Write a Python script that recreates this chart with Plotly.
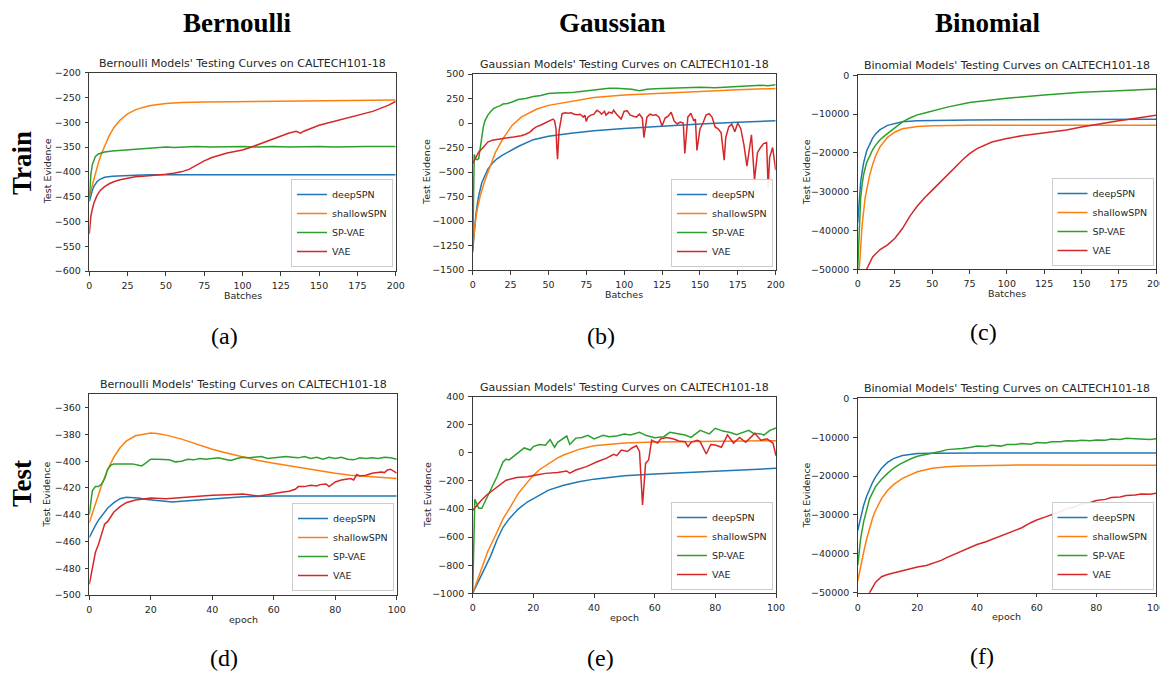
import plotly.graph_objects as go

# page body has an 8px margin: the figure is sized to the visible area and every
# layout position below is given in screen pixels and converted with OFF.
OFF = 8
W, H = 1168 - OFF, 673 - OFF
SERIES = ["deepSPN", "shallowSPN", "SP-VAE", "VAE"]
COLORS = ["#1f77b4", "#ff7f0e", "#2ca02c", "#d62728"]

# ---------------- (a) Bernoulli train ----------------
A_DEEP_X = [0, 1, 2, 3, 5, 7, 10, 15, 20, 25, 30, 40, 50, 75, 100, 150, 200]
A_DEEP_Y = [-460, -447, -437, -429, -420, -415, -411, -409, -408, -407, -407, -406, -406, -406, -406, -406, -406]
A_SHAL_X = [0, 2, 4, 6, 8, 10, 13, 16, 20, 25, 30, 35, 40, 50, 60, 75, 100, 150, 200]
A_SHAL_Y = [-450, -425, -402, -381, -363, -347, -327, -311, -296, -283, -275, -270, -266, -262, -260, -259, -258, -256, -255]
A_SPV_X = [0, 1, 2, 3, 4, 6, 8, 10, 15, 20, 25, 30, 35, 40, 45, 50, 55, 60, 70, 80, 90, 100, 110, 120, 130, 140, 150, 160, 170, 180, 190, 200]
A_SPV_Y = [-455, -405, -385, -375, -369, -364, -362, -360, -358, -357, -356, -355, -353, -352, -351, -350, -351, -350, -349, -350, -349, -349, -350, -349, -350, -349, -349, -350, -349, -349, -349, -349]
A_VAE_X = [0, 1, 2, 3, 5, 7, 10, 13, 16, 20, 25, 30, 35, 40, 45, 50, 55, 60, 65, 70, 75, 80, 85, 90, 95, 100, 105, 110, 115, 120, 125, 130, 135, 138, 140, 145, 150, 155, 160, 165, 170, 175, 180, 185, 190, 195, 200]
A_VAE_Y = [-525, -490, -475, -463, -448, -438, -430, -424, -420, -416, -413, -410, -409, -408, -406, -405, -403, -400, -395, -386, -378, -371, -366, -362, -359, -356, -351, -345, -339, -333, -327, -322, -318, -322, -318, -312, -306, -302, -298, -295, -291, -286, -282, -278, -272, -266, -258]

# ---------------- (b) Gaussian train ----------------
B_DEEP_X = [0, 1, 2, 3, 4, 6, 8, 10, 13, 16, 20, 25, 30, 40, 50, 65, 80, 100, 125, 150, 175, 200]
B_DEEP_Y = [-1300, -1100, -950, -830, -740, -610, -530, -470, -410, -365, -325, -280, -240, -170, -135, -105, -80, -55, -30, -10, 8, 22]
B_SHAL_X = [0, 1, 2, 3, 5, 8, 11, 15, 20, 26, 32, 42, 50, 65, 80, 100, 125, 150, 175, 200]
B_SHAL_Y = [-1250, -1100, -980, -880, -740, -590, -460, -300, -160, -25, 60, 140, 180, 220, 260, 285, 305, 325, 340, 352]
B_SPV_X = [0, 1, 2, 3, 4, 5, 6, 7, 8, 10, 12, 14, 16, 18, 20, 23, 26, 30, 35, 40, 45, 50, 55, 60, 65, 70, 75, 80, 85, 90, 95, 100, 105, 110, 115, 120, 130, 140, 150, 160, 170, 180, 190, 195, 200]
B_SPV_Y = [-1320, -320, -370, -375, -360, -250, -120, -40, 20, 80, 120, 150, 165, 175, 195, 200, 215, 240, 250, 270, 280, 300, 305, 305, 310, 320, 330, 335, 345, 355, 355, 350, 345, 330, 345, 350, 355, 360, 365, 360, 370, 375, 385, 380, 390]
B_VAE_X = [0, 2, 4, 6, 8, 10, 13, 17, 20, 23, 27, 32, 35, 38, 40, 42, 45, 47, 49, 51, 53, 54, 55, 55.5, 56, 57, 58, 59, 61, 63, 65, 67, 69, 71, 73, 74, 75, 76, 78, 80, 82, 84, 85, 87, 88, 90, 92, 93, 95, 96, 98, 100, 102, 104, 106, 108, 110, 112, 113, 115, 117, 119, 121, 123, 125, 127, 129, 131, 133, 135, 137, 139, 140, 142, 144, 146, 147, 148, 150, 152, 154, 156, 158, 160, 162, 164, 166, 167, 169, 171, 173, 175, 177, 179, 181, 183, 184, 186, 188, 190, 192, 194, 195, 196, 198, 200]
B_VAE_Y = [-415, -350, -295, -265, -225, -195, -175, -163, -155, -150, -142, -130, -115, -90, -60, -40, -20, -5, 15, 30, 40, 25, -60, -250, -370, -80, 30, 95, 105, 100, 105, 90, 85, 90, 60, 80, 15, 60, 80, 90, 130, 110, 90, 120, 80, 110, 100, 130, 90, 70, 40, 120, 125, 80, 70, 60, 90, 50, -150, 60, 90, 80, 85, 60, -30, 50, 70, 110, 20, -10, 10, 0, -310, 60, 100, 20, 40, -280, -60, 0, 80, 95, 60, -40, -60, -100, -380, -150, -40, -10, -90, 0, -60, -220, -440, -200, -120, -580, -300, -250, -210, -200, -660, -350, -250, -480]

# ---------------- (c) Binomial train ----------------
C_DEEP_X = [0, 1, 2, 3, 4, 6, 8, 10, 12, 15, 20, 25, 30, 40, 50, 75, 100, 150, 200]
C_DEEP_Y = [-38000, -31000, -27500, -24800, -22500, -19500, -17600, -16200, -15100, -14000, -12900, -12400, -12000, -11700, -11600, -11500, -11450, -11400, -11350]
C_SHAL_X = [0, 1, 2, 3, 5, 8, 10, 12, 15, 20, 25, 30, 40, 50, 75, 100, 150, 200]
C_SHAL_Y = [-56000, -49000, -43000, -38500, -31500, -25800, -23000, -20800, -18400, -16000, -14600, -13800, -13200, -13000, -12900, -12900, -12900, -12900]
C_SPV_X = [0, 1, 2, 3, 4, 6, 8, 10, 12, 15, 18, 20, 25, 30, 35, 40, 45, 50, 60, 75, 90, 100, 125, 150, 175, 200]
C_SPV_Y = [-50000, -38500, -31500, -28000, -25500, -22500, -20600, -19200, -18000, -16600, -15600, -15000, -13400, -12000, -11000, -10200, -9700, -9200, -8200, -7000, -6300, -5900, -5100, -4400, -3950, -3500]
C_VAE_X = [0, 3, 6, 10, 15, 20, 25, 30, 35, 40, 45, 50, 60, 70, 75, 80, 90, 100, 110, 125, 140, 150, 160, 175, 190, 200]
C_VAE_Y = [-56000, -53000, -50000, -46800, -44900, -43700, -42000, -39500, -36300, -33700, -31500, -29600, -25700, -21900, -20200, -18900, -17200, -16300, -15600, -14900, -14100, -13300, -12600, -11700, -10900, -10300]

# ---------------- (d) Bernoulli test ----------------
D_DEEP_X = [0, 1, 2, 3, 4, 5, 6, 8, 10, 12, 14, 16, 18, 20, 23, 27, 30, 35, 40, 45, 50, 60, 70, 80, 90, 100]
D_DEEP_Y = [-457, -452, -448, -444, -441, -438, -435, -431, -428, -427, -427, -427.5, -428.5, -429, -430, -430.5, -430, -429, -428, -427, -426.5, -426, -426, -426, -426, -426]
D_SHAL_X = [0, 2, 4, 6, 8, 10, 12, 15, 18, 20, 22, 25, 30, 35, 40, 45, 50, 55, 60, 65, 70, 75, 80, 85, 90, 95, 100]
D_SHAL_Y = [-446, -432, -418, -406, -397, -390, -385, -381, -379.5, -379, -379.3, -380.5, -383.5, -387.5, -391, -394, -397, -399.5, -401.5, -403.5, -405.5, -407.5, -409, -410.5, -411.5, -412.5, -413]
D_SPV_X = [0, 1, 2, 3, 4, 5, 6, 7, 8, 10, 12, 14, 16, 17, 18, 20, 22, 24, 26, 28, 30, 32, 34, 36, 38, 40, 42, 44, 46, 48, 50, 52, 54, 56, 58, 60, 62, 64, 66, 68, 70, 72, 74, 76, 78, 80, 82, 84, 86, 88, 90, 92, 94, 96, 98, 100]
D_SPV_Y = [-440, -422, -419, -419, -417, -413, -406, -403, -402, -402, -402.5, -402, -403, -403.5, -402, -398.5, -398.5, -399, -399, -400.5, -400, -398.5, -399, -398, -398.5, -398, -397.5, -398.5, -399.5, -398, -397, -397.5, -397, -396.5, -398, -397.5, -397, -396.5, -397, -397.5, -396.5, -398, -397, -398.5, -397, -398, -397, -398.5, -399, -397.5, -398, -397.5, -398, -397, -397.5, -398.5]
D_VAE_X = [0, 1, 2, 3, 4, 5, 6, 7, 8, 10, 12, 15, 18, 20, 25, 30, 35, 40, 45, 50, 53, 55, 58, 60, 63, 65, 67, 68, 70, 72, 74, 75, 77, 78, 80, 82, 84, 85, 86, 87, 88, 90, 92, 94, 95, 96, 97, 98, 100]
D_VAE_Y = [-492, -480, -468, -462, -454, -447, -445, -441, -438, -434, -431, -429, -428, -427.5, -428, -427, -426.5, -425.5, -425, -424.5, -425.5, -426, -425, -424, -423, -422.5, -421, -419, -419, -418, -418.5, -417.5, -417, -419, -415.5, -414, -413.5, -413, -414, -410, -411, -410.5, -409, -408.5, -408, -408.5, -406.5, -406, -409]

# ---------------- (e) Gaussian test ----------------
E_DEEP_X = [0, 1, 2, 3, 4, 6, 8, 10, 12, 15, 18, 20, 25, 30, 35, 40, 50, 60, 70, 80, 90, 100]
E_DEEP_Y = [-1000, -960, -910, -865, -820, -730, -620, -530, -470, -400, -350, -325, -265, -230, -205, -187, -163, -150, -140, -130, -120, -110]
E_SHAL_X = [0, 1, 2, 3, 5, 8, 10, 12, 15, 18, 20, 22, 25, 28, 30, 35, 40, 45, 50, 60, 70, 80, 90, 100]
E_SHAL_Y = [-1000, -940, -880, -820, -700, -565, -470, -400, -290, -210, -160, -120, -75, -35, -15, 25, 50, 62, 70, 78, 82, 84, 85, 86]
E_SPV_X = [0, 0.7, 2, 3, 4, 6, 8, 10, 11, 12, 14, 15.5, 17, 19, 20, 22, 24, 25.5, 27, 28, 31, 32, 34, 36, 38, 40, 43, 45, 47.5, 50, 52, 55, 57, 60, 63, 65, 68, 70, 72, 73, 75, 78, 80, 82.5, 85, 87, 89, 91, 92.5, 95, 96, 98, 100]
E_SPV_Y = [-1000, -330, -395, -395, -350, -265, -170, -65, -45, -50, -15, 5, 35, 20, 45, 60, 55, 95, 40, 75, 120, 60, 105, 110, 125, 100, 125, 115, 120, 135, 127, 146, 125, 108, 115, 146, 135, 127, 110, 127, 160, 135, 175, 155, 145, 130, 146, 160, 140, 135, 127, 160, 178]
E_VAE_X = [0, 2.4, 4.6, 6.8, 9, 11, 14.5, 18, 21, 24, 28, 31, 32, 34, 37.5, 41, 44, 46.5, 47.5, 49, 51, 52.5, 54, 55, 56, 57, 58, 59, 60, 61, 62, 64, 66, 68, 70, 71, 72, 73, 74, 75, 77, 78.5, 80, 82, 84, 86, 88, 90, 92, 93, 95, 97, 99, 100]
E_VAE_Y = [-410, -348, -300, -264, -224, -195, -176, -170, -158, -146, -139, -129, -145, -122, -98, -63, -39, -10, -20, 20, 10, 35, 50, 10, -371, -75, -51, 91, 80, 70, 100, 110, 100, 85, 80, 44, 75, 80, 90, 80, -8, 60, 56, 40, 127, 70, 110, 75, 120, 139, 90, 100, 70, -20]

# ---------------- (f) Binomial test ----------------
F_DEEP_X = [0, 1, 2, 3, 4, 5, 6, 8, 10, 12, 15, 18, 20, 25, 30, 40, 50, 60, 70, 80, 90, 100]
F_DEEP_Y = [-34000, -30500, -27500, -25200, -23200, -21600, -20200, -18000, -16500, -15500, -14700, -14300, -14200, -14150, -14100, -14100, -14100, -14100, -14100, -14100, -14100, -14100]
F_SHAL_X = [0, 1, 2, 3, 4, 5, 6, 8, 10, 12, 15, 18, 20, 25, 30, 35, 40, 50, 60, 70, 80, 90, 100]
F_SHAL_Y = [-47000, -43000, -39600, -36200, -33300, -30800, -28800, -25800, -23700, -22200, -20600, -19500, -18900, -18000, -17600, -17400, -17300, -17200, -17150, -17150, -17200, -17200, -17200]
F_SPV_X = [0, 1, 2, 3, 4, 6, 8, 10, 12, 14, 16, 18, 20, 22, 25, 28, 30, 33, 35, 38, 40, 43, 45, 48, 50, 53, 55, 58, 60, 63, 65, 68, 70, 73, 75, 78, 80, 83, 85, 88, 90, 93, 95, 98, 100]
F_SPV_Y = [-43000, -36000, -31700, -28400, -25800, -22700, -20800, -19300, -18000, -17000, -16200, -15500, -14900, -14600, -14200, -13600, -13200, -13100, -12900, -12600, -12300, -12400, -12100, -12300, -11900, -11900, -11600, -11800, -11400, -11500, -11200, -11200, -10900, -11000, -10800, -10900, -10700, -10800, -10500, -10600, -10300, -10400, -10500, -10600, -10400]
F_VAE_X = [0, 2, 4, 6, 8, 10, 13, 15, 18, 20, 23, 25, 28, 30, 33, 35, 38, 40, 43, 45, 48, 50, 53, 55, 58, 60, 63, 65, 68, 70, 73, 75, 78, 80, 83, 85, 88, 90, 93, 95, 98, 100]
F_VAE_Y = [-57000, -53500, -50000, -47300, -45900, -45300, -44700, -44300, -43800, -43400, -43000, -42500, -41700, -40900, -39900, -39100, -38300, -37600, -36900, -36300, -35300, -34800, -33700, -33300, -32000, -31300, -30500, -30000, -29100, -28400, -27900, -27100, -26800, -26300, -26000, -25500, -25400, -25000, -24900, -24600, -24700, -24400]

HEADERS = ["Bernoulli", "Gaussian", "Binomial"]
ROWS = ["Train", "Test"]
CAPTIONS = ["(a)", "(b)", "(c)", "(d)", "(e)", "(f)"]

panels = [
    dict(box=(89.3, 72.7, 395.7, 271.0), ylab_x=47.5, title="Bernoulli Models' Testing Curves on CALTECH101-18", xlabel="Batches",
         xr=[0, 200], xd=25, yr=[-600, -200], yd=50,
         data=[(A_DEEP_X, A_DEEP_Y), (A_SHAL_X, A_SHAL_Y), (A_SPV_X, A_SPV_Y), (A_VAE_X, A_VAE_Y)]),
    dict(box=(472.7, 74.0, 775.7, 270.0), ylab_x=427.0, title="Gaussian Models' Testing Curves on CALTECH101-18", xlabel="Batches",
         xr=[0, 200], xd=25, yr=[-1500, 500], yd=250,
         data=[(B_DEEP_X, B_DEEP_Y), (B_SHAL_X, B_SHAL_Y), (B_SPV_X, B_SPV_Y), (B_VAE_X, B_VAE_Y)]),
    dict(box=(857.7, 75.3, 1156.0, 269.3), ylab_x=806.0, title="Binomial Models' Testing Curves on CALTECH101-18", xlabel="Batches",
         xr=[0, 200], xd=25, yr=[-50000, 0], yd=10000,
         data=[(C_DEEP_X, C_DEEP_Y), (C_SHAL_X, C_SHAL_Y), (C_SPV_X, C_SPV_Y), (C_VAE_X, C_VAE_Y)]),
    dict(box=(89.3, 394.3, 396.7, 595.0), ylab_x=47.0, title="Bernoulli Models' Testing Curves on CALTECH101-18", xlabel="epoch",
         xr=[0, 100], xd=20, yr=[-500, -350], yd=20,
         data=[(D_DEEP_X, D_DEEP_Y), (D_SHAL_X, D_SHAL_Y), (D_SPV_X, D_SPV_Y), (D_VAE_X, D_VAE_Y)]),
    dict(box=(472.7, 396.7, 776.0, 593.3), ylab_x=427.0, title="Gaussian Models' Testing Curves on CALTECH101-18", xlabel="epoch",
         xr=[0, 100], xd=20, yr=[-1000, 400], yd=200,
         data=[(E_DEEP_X, E_DEEP_Y), (E_SHAL_X, E_SHAL_Y), (E_SPV_X, E_SPV_Y), (E_VAE_X, E_VAE_Y)]),
    dict(box=(857.7, 398.3, 1156.0, 592.7), ylab_x=806.0, title="Binomial Models' Testing Curves on CALTECH101-18", xlabel="epoch",
         xr=[0, 100], xd=20, yr=[-50000, 0], yd=10000,
         data=[(F_DEEP_X, F_DEEP_Y), (F_SHAL_X, F_SHAL_Y), (F_SPV_X, F_SPV_Y), (F_VAE_X, F_VAE_Y)]),
]
LEGEND_POS = [(393.0, 267.0), (773.0, 267.0), (1153.5, 266.0), (394.0, 591.0), (773.0, 590.0), (1153.5, 590.0)]

FONT = "DejaVu Sans"
SERIF = "Liberation Serif"
AX = "#3a3a3a"
TXT = "#262626"

fig = go.Figure()
layout = dict(width=W, height=H, margin=dict(l=0, r=0, t=0, b=0, pad=0, autoexpand=False),
              paper_bgcolor="white", plot_bgcolor="white", showlegend=True)
annotations = []


def px(x):
    return (x - OFF) / W


def py(y):
    return 1 - (y - OFF) / H


for i, p in enumerate(panels):
    n = i + 1
    sfx = "" if n == 1 else str(n)
    leg = "legend" if n == 1 else f"legend{n}"
    x0, y0, x1, y1 = p["box"]
    for j, (xs, ys) in enumerate(p["data"]):
        fig.add_trace(go.Scatter(x=xs, y=ys, mode="lines", name=SERIES[j],
                                 line=dict(color=COLORS[j], width=1.5),
                                 xaxis=f"x{sfx}", yaxis=f"y{sfx}", legend=leg))
    common = dict(showgrid=False, zeroline=False, automargin=False,
                  showline=True, mirror=True, linecolor=AX, linewidth=1,
                  ticks="outside", ticklen=3.5, tickcolor=AX, tickformat="d",
                  ticklabelstandoff=2, ticklabeloverflow="allow",
                  tickfont=dict(family=FONT, size=9.5, color=TXT))
    layout[f"xaxis{sfx}"] = dict(domain=[px(x0), px(x1)], range=p["xr"], anchor=f"y{sfx}",
                                 tick0=0, dtick=p["xd"], **common)
    layout[f"yaxis{sfx}"] = dict(domain=[py(y1), py(y0)], range=p["yr"], anchor=f"x{sfx}",
                                 tick0=p["yr"][0], dtick=p["yd"], **common)
    lx, ly = LEGEND_POS[i]
    layout[leg] = dict(x=px(lx), y=py(ly), xanchor="right", yanchor="bottom",
                       bgcolor="rgba(255,255,255,0.9)", bordercolor="#cccccc", borderwidth=1,
                       font=dict(family=FONT, size=9.5, color=TXT), tracegroupgap=0,
                       itemwidth=30)
    cx = (x0 + x1) / 2
    annotations.append(dict(text=p["title"], x=px(cx), y=py(y0 - 9.5), xref="paper", yref="paper",
                            showarrow=False, xanchor="center", yanchor="middle",
                            font=dict(family=FONT, size=11, color=TXT)))
    annotations.append(dict(text=p["xlabel"], x=px(cx), y=py(y1 + 24), xref="paper", yref="paper",
                            showarrow=False, xanchor="center", yanchor="middle",
                            font=dict(family=FONT, size=9.5, color=TXT)))
    annotations.append(dict(text="Test Evidence", x=px(p["ylab_x"]), y=py((y0 + y1) / 2), xref="paper", yref="paper",
                            showarrow=False, xanchor="center", yanchor="middle", textangle=-90,
                            font=dict(family=FONT, size=9.5, color=TXT)))

for k, (t, cx) in enumerate(zip(HEADERS, [237, 612, 988])):
    annotations.append(dict(text=f"<b>{t}</b>", x=px(cx), y=py(23), xref="paper", yref="paper",
                            showarrow=False, xanchor="center", yanchor="middle",
                            font=dict(family=SERIF, size=27, color="black")))
for t, cy in zip(ROWS, [163, 484]):
    annotations.append(dict(text=f"<b>{t}</b>", x=px(22), y=py(cy), xref="paper", yref="paper",
                            showarrow=False, xanchor="center", yanchor="middle", textangle=-90,
                            font=dict(family=SERIF, size=27, color="black")))
for t, (cx, cy) in zip(CAPTIONS, [(224, 336), (601, 336), (983, 332), (224, 658), (600, 658), (982, 656)]):
    annotations.append(dict(text=t, x=px(cx), y=py(cy), xref="paper", yref="paper",
                            showarrow=False, xanchor="center", yanchor="middle",
                            font=dict(family=SERIF, size=24, color="black")))

layout["annotations"] = annotations
fig.update_layout(**layout)
fig.write_html("out.html")
